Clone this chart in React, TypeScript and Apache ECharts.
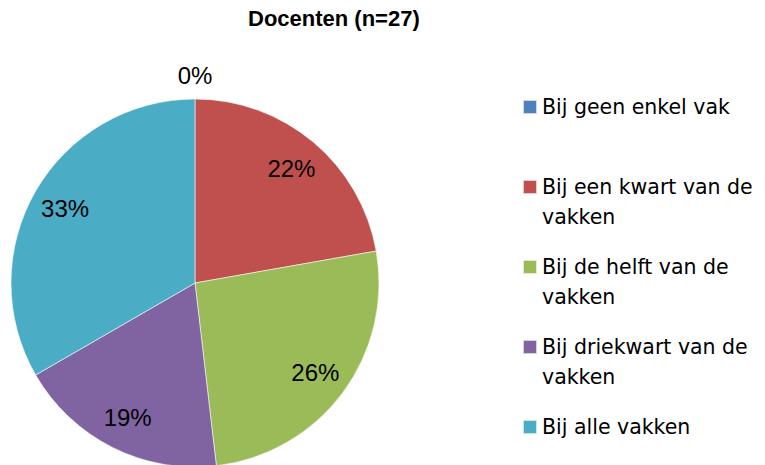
import React, { useEffect, useRef } from "react";
import * as echarts from "echarts";

const titleText = "Docenten (n=27)";
const categories = [
  "Bij geen enkel vak",
  "Bij een kwart van de vakken",
  "Bij de helft van de vakken",
  "Bij driekwart van de vakken",
  "Bij alle vakken",
];
const legendLines = [
  ["Bij geen enkel vak"],
  ["Bij een kwart van de", "vakken"],
  ["Bij de helft van de", "vakken"],
  ["Bij driekwart van de", "vakken"],
  ["Bij alle vakken"],
];
const counts = [0, 6, 7, 5, 9];
const colors = ["#4F81BD", "#C0504D", "#9BBB59", "#8064A2", "#4BACC6"];

const labelFont = "'Liberation Sans', Arial, sans-serif";

export default function App() {
  const ref = useRef<HTMLDivElement>(null);
  useEffect(() => {
    if (!ref.current) return;
    const chart = echarts.init(ref.current, undefined, { renderer: "svg" });
    const fmt = (p: any) => Math.round(p.percent) + "%";
    const legendMap: Record<string, string> = {};
    categories.forEach((c, i) => {
      const l = legendLines[i];
      legendMap[c] = "\n" + l.join("\n") + (l.length === 1 ? "\n" : "");
    });
    const center = [195, 283];
    const R = 184;
    chart.setOption({
      animation: false,
      backgroundColor: "#ffffff",
      color: colors,
      title: {
        text: titleText,
        left: 248,
        top: 7,
        padding: 0,
        textStyle: {
          fontFamily: "'Liberation Sans', Arial, sans-serif",
          fontWeight: "bold",
          fontSize: 22,
          color: "#000",
        },
      },
      legend: {
        orient: "vertical",
        left: 522,
        top: 62,
        height: 460,
        padding: 0,
        itemGap: -10,
        itemWidth: 14,
        itemHeight: 14,
        icon: "rect",
        data: categories,
        formatter: (name: string) => legendMap[name],
        textStyle: {
          fontFamily: "'DejaVu Sans', sans-serif",
          fontSize: 20.5,
          lineHeight: 30,
          color: "#000",
        },
      },
      series: [
        {
          type: "pie",
          center,
          radius: R,
          startAngle: 90,
          clockwise: true,
          silent: true,
          label: { show: false },
          labelLine: { show: false },
          itemStyle: { borderColor: "rgba(255,255,255,0.7)", borderWidth: 0.8 },
          data: categories.map((c, i) => ({ name: c, value: counts[i] })),
        },
        {
          type: "pie",
          center,
          radius: [110, R],
          startAngle: 90,
          clockwise: true,
          silent: true,
          legendHoverLink: false,
          itemStyle: { color: "rgba(0,0,0,0)", borderWidth: 0 },
          labelLine: { show: false },
          label: {
            show: true,
            position: "inside",
            formatter: fmt,
            fontFamily: labelFont,
            fontSize: 24,
            color: "#000",
          },
          data: categories.map((c, i) => ({
            name: c,
            value: counts[i],
            label: { show: counts[i] > 0 },
          })),
        },
        {
          type: "pie",
          center,
          radius: [196, 214],
          startAngle: 90,
          clockwise: true,
          silent: true,
          legendHoverLink: false,
          itemStyle: { color: "rgba(0,0,0,0)", borderWidth: 0 },
          labelLine: { show: false },
          label: {
            show: true,
            position: "inside",
            formatter: fmt,
            fontFamily: labelFont,
            fontSize: 24,
            color: "#000",
          },
          data: categories.map((c, i) => ({
            name: c,
            value: counts[i],
            label: { show: counts[i] === 0 },
          })),
        },
      ],
    });
    return () => chart.dispose();
  }, []);
  return (
    <div
      ref={ref}
      style={{ position: "fixed", left: 0, top: 0, width: 765, height: 465 }}
    />
  );
}
